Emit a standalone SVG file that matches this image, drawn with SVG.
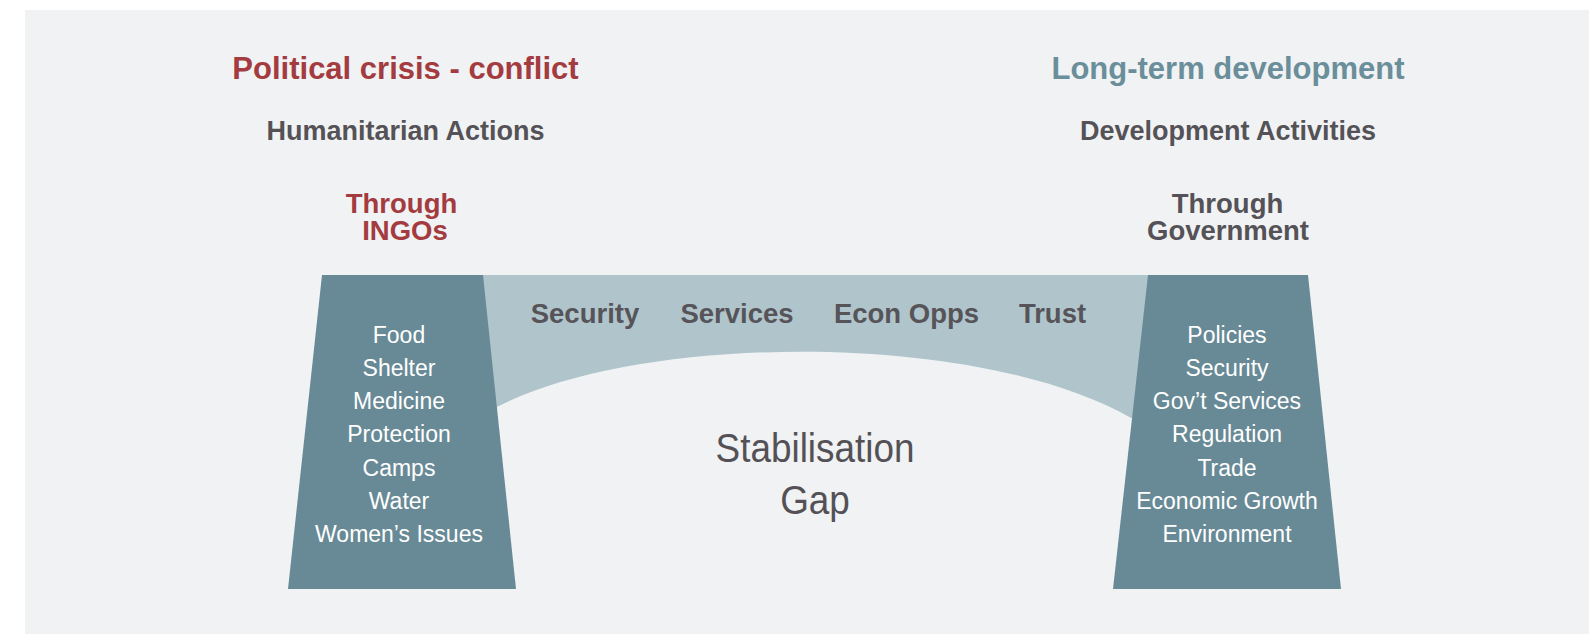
<svg xmlns="http://www.w3.org/2000/svg" width="1589" height="634" viewBox="0 0 1589 634">
  <style>
    text { font-family: "Liberation Sans", Arial, sans-serif; text-anchor: middle; }
    .title { font-size: 31px; font-weight: bold; }
    .sub { font-size: 27px; font-weight: bold; fill: #555257; }
    .via { font-size: 27.5px; font-weight: bold; }
    .red { fill: #a33b3f; }
    .teal { fill: #6a8e9a; }
    .dark { fill: #555257; }
    .pillar { fill: #688a96; }
    .item { font-size: 23px; fill: #ffffff; }
    .need { font-size: 27.5px; font-weight: bold; fill: #575459; }
    .gap { font-size: 41px; fill: #545156; }
  </style>

  <!-- canvas -->
  <rect x="0" y="0" width="1589" height="634" fill="#ffffff"/>
  <rect x="25" y="10" width="1564" height="624" fill="#f0f2f4"/>

  <!-- column headings -->
  <g id="heading-left">
    <text class="title red" x="405.5" y="79">Political crisis - conflict</text>
    <text class="sub" x="405.5" y="139.5">Humanitarian Actions</text>
    <text class="via red" x="401.5" y="213">Through</text>
    <text class="via red" x="405" y="239.5">INGOs</text>
  </g>
  <g id="heading-right">
    <text class="title teal" x="1228" y="79">Long-term development</text>
    <text class="sub" x="1228" y="139.5">Development Activities</text>
    <text class="via dark" x="1227.5" y="213">Through</text>
    <text class="via dark" x="1228" y="239.5">Government</text>
  </g>

  <!-- bridge spanning the two pillars -->
  <g id="bridge">
    <path d="M470,275 H1160 V418 H1131 C977,330 640,333 497,407 H470 Z" fill="#b0c5cb"/>
    <text class="need" x="585" y="323">Security</text>
    <text class="need" x="737" y="323">Services</text>
    <text class="need" x="906.5" y="323">Econ Opps</text>
    <text class="need" x="1052.5" y="323">Trust</text>
  </g>

  <!-- humanitarian pillar -->
  <g id="pillar-left">
    <polygon class="pillar" points="322,275 483,275 516,589 288,589"/>
    <text class="item" x="399" y="342.7">Food</text>
    <text class="item" x="399" y="375.9">Shelter</text>
    <text class="item" x="399" y="409.1">Medicine</text>
    <text class="item" x="399" y="442.3">Protection</text>
    <text class="item" x="399" y="475.5">Camps</text>
    <text class="item" x="399" y="508.7">Water</text>
    <text class="item" x="399" y="541.9">Women’s Issues</text>
  </g>

  <!-- development pillar -->
  <g id="pillar-right">
    <polygon class="pillar" points="1148,275 1308,275 1341,589 1113,589"/>
    <text class="item" x="1227" y="342.7">Policies</text>
    <text class="item" x="1227" y="375.9">Security</text>
    <text class="item" x="1227" y="409.1">Gov’t Services</text>
    <text class="item" x="1227" y="442.3">Regulation</text>
    <text class="item" x="1227" y="475.5">Trade</text>
    <text class="item" x="1227" y="508.7">Economic Growth</text>
    <text class="item" x="1227" y="541.9">Environment</text>
  </g>

  <!-- gap label under the arch -->
  <g id="gap-label" transform="translate(815,0) scale(0.9,1)">
    <text class="gap" x="0" y="461.7">Stabilisation</text>
    <text class="gap" x="0" y="514">Gap</text>
  </g>

  <g id="connectors"/>
</svg>
